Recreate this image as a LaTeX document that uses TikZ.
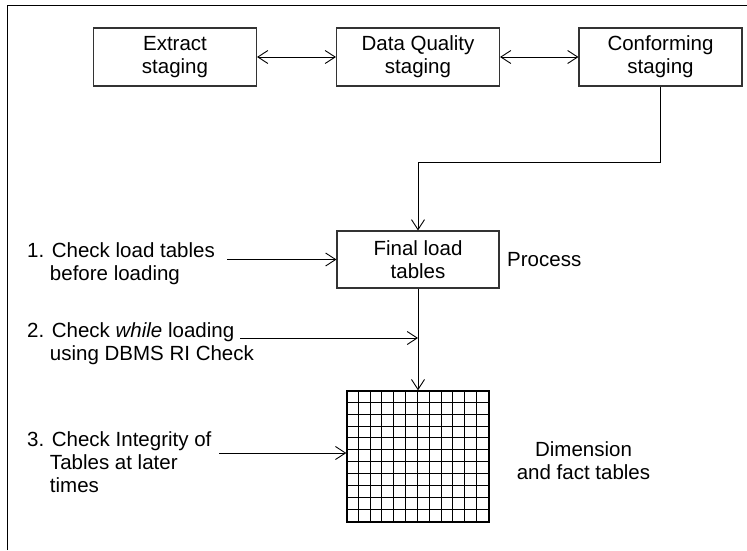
\documentclass[tikz,border=0pt]{standalone}
\usepackage{fontspec}
\setmainfont{Liberation Sans}
\usetikzlibrary{arrows.meta,calc}
\begin{document}
\begin{tikzpicture}[x=1pt,y=-1pt,
  every node/.style={font=\fontsize{20.5}{23}\selectfont},
  stagebox/.style={draw=black!80,line width=1.1pt,minimum width=163pt,minimum height=58pt,inner sep=0pt,align=center},
  lbl/.style={inner sep=0pt,align=left,anchor=west},
  conn/.style={line width=0.9pt,-{Straight Barb[length=10pt,width=13pt,line width=0.9pt]}},
  biconn/.style={line width=0.9pt,{Straight Barb[length=10pt,width=13pt,line width=0.9pt]}-{Straight Barb[length=10pt,width=13pt,line width=0.9pt]}},
  plainline/.style={line width=0.9pt}
]
\useasboundingbox (0,0) rectangle (747,550);
% frame
\draw[plainline] (7,550) -- (7,5) -- (747,5);

% top boxes
\node[stagebox] (ext)  at (175,57)   {Extract\\staging};
\node[stagebox] (dq)   at (418,57)   {Data Quality\\staging};
\node[stagebox] (conf) at (660.5,57) {Conforming\\staging};
\draw[biconn] (ext) -- (dq);
\draw[biconn] (dq) -- (conf);

% final load
\node[stagebox,minimum width=162pt,minimum height=57pt] (final) at (418,259.5) {Final load\\tables};
\node[lbl] (proc) at (507,260) {Process};

\coordinate (bend) at (660.5,162);
\draw[conn] (conf.south) -- (bend) -| (final.north);

% grid
\node[draw=black,line width=1.4pt,minimum width=142pt,minimum height=131pt,inner sep=0pt] (grid) at (418,456.5) {};
\foreach \i in {1,...,11} {
  \draw[line width=0.9pt] ($(grid.north west)+(\i*142/12,0)$) -- ($(grid.south west)+(\i*142/12,0)$);
}
\foreach \j in {1,...,10} {
  \draw[line width=0.9pt] ($(grid.north west)+(0,\j*131/11)$) -- ($(grid.north east)+(0,\j*131/11)$);
}
\node[inner sep=0pt,align=center] (dim) at (583.5,461) {Dimension\\and fact tables};

\draw[conn] (final.south) -- (grid.north);

% checks
\node[lbl] (c1) at (27,263.5) {1. Check load tables\\\phantom{1.\ }before loading};
\node[lbl] (c2) at (27,344) {2. Check \textit{while} loading\\\phantom{2.\ }using DBMS RI Check};
\node[lbl] (c3) at (27,462.5) {3. Check Integrity of\\\phantom{3.\ }Tables at later\\\phantom{3.\ }times};

\coordinate (s1) at (227,259.5);
\coordinate (s2) at (240,338);
\coordinate (s3) at (219,453);
\draw[conn] (s1) -- (final.west);
\draw[conn] (s2) -- (s2 -| final.south);
\draw[conn] (s3) -- (s3 -| grid.west);
\end{tikzpicture}
\end{document}
